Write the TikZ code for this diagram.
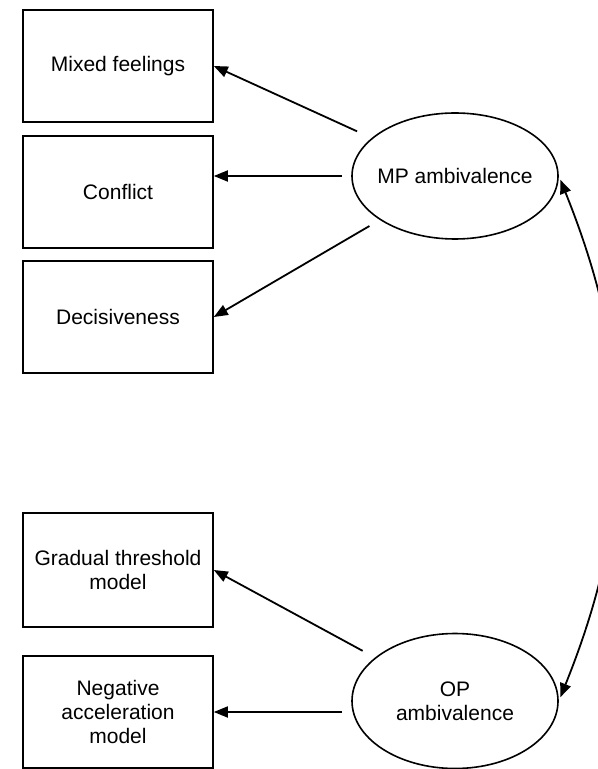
\documentclass[tikz,border=0pt]{standalone}
\usepackage{fontspec}
\setmainfont{Liberation Sans}
\usetikzlibrary{arrows.meta,shapes.geometric}

\begin{document}
\begin{tikzpicture}[x=0.5pt,y=-0.5pt,>={Triangle[length=7pt,width=5.5pt]},line width=0.9pt,
    font=\fontsize{10.5}{12}\selectfont,
    box/.style={shape=rectangle,draw=black,line width=0.8pt,minimum width=95pt,minimum height=56pt,align=center},
    latent/.style={shape=ellipse,draw=black,line width=0.8pt,minimum width=103pt,inner sep=0pt,align=center}]
    \useasboundingbox (0,0) rectangle (598,769);
    \node[box] (0) at (118,66) {Mixed feelings};
    \node[box] (1) at (118,192) {Conflict};
    \node[box] (2) at (118,317) {Decisiveness};
    \node[box,minimum height=57pt] (3) at (118,570) {Gradual threshold\\model};
    \node[box] (4) at (118,712) {Negative\\acceleration\\model};
    \node[latent,minimum height=63pt,inner xsep=-10pt] (5) at (455,176) {MP ambivalence};
    \node[latent,minimum height=67.5pt] (6) at (455,701) {OP\\ambivalence};
    \path[->](5) edge[shorten <=8pt] (0.east);
    \path[->](5.west) edge[shorten <=4.5pt] (5 -| 1.east);
    \path[->](5) edge[shorten <=6pt] (2.east);
    \path[->](6) edge[shorten <=7pt] (3.east);
    \path[->](4 -| 6.west) edge[shorten <=4.5pt] (4.east);
    \path[<->](5.east) edge[bend left=22,shorten <=2pt,shorten >=2pt] (6.east);
\end{tikzpicture}
\end{document}
